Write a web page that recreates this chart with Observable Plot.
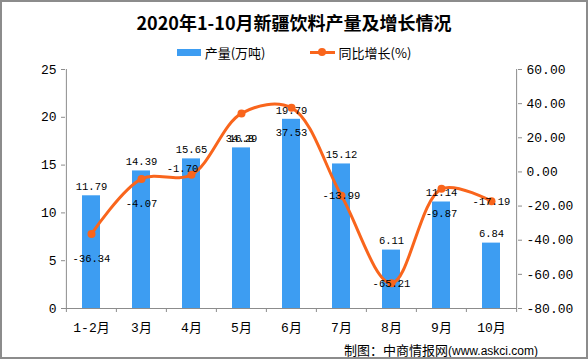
<!DOCTYPE html>
<html>
<head>
<meta charset="utf-8">
<script src="https://cdn.jsdelivr.net/npm/d3@7"></script>
<script src="https://cdn.jsdelivr.net/npm/@observablehq/plot@0.6"></script>
<style>
  html, body { margin: 0; padding: 0; background: #fff; }
  #wrap { position: relative; width: 588px; height: 359px; overflow: hidden; background: #fff; }
  #border { position: absolute; left: 0; top: 0; width: 588px; height: 359px; box-sizing: border-box; border: 2px solid #8c8c8c; pointer-events: none; }
  #title { padding-top: 3px; height: 38px; line-height: 38px; text-align: center; font-family: "Noto Sans CJK SC", sans-serif; font-weight: bold; font-size: 18px; color: #000; }
  #legend { height: 22px; display: flex; justify-content: center; align-items: center; font-family: "Noto Sans CJK SC", sans-serif; font-size: 13px; color: #000; }
  .item { display: flex; align-items: center; }
  .sw-bar { width: 24px; height: 7px; margin-right: 4px; }
  .sw-line { position: relative; width: 25px; height: 3px; margin-right: 4px; }
  .sw-line span { position: absolute; left: 8.5px; top: -2.5px; width: 8px; height: 8px; border-radius: 50%; }
  #caption { margin-top: 2px; height: 16px; line-height: 16px; text-align: right; padding-right: 50px; color: #000; white-space: nowrap; }
  #caption .cn { font-family: "Noto Sans CJK SC", sans-serif; font-size: 13px; }
  #caption .url { font-family: "Liberation Sans", sans-serif; font-size: 12px; }
  svg { display: block; }
</style>
</head>
<body>
<div id="wrap">
  <div id="title"></div>
  <div id="legend"></div>
  <div id="chart"></div>
  <div id="caption"><span class="cn">制图：中商情报网</span><span class="url">(www.askci.com)</span></div>
  <div id="border"></div>
</div>
<script>
const titleText = "2020年1-10月新疆饮料产量及增长情况";
const seriesNames = ["产量(万吨)", "同比增长(%)"];
const categories = ["1-2月", "3月", "4月", "5月", "6月", "7月", "8月", "9月", "10月"];
const output = [11.79, 14.39, 15.65, 16.8, 19.79, 15.12, 6.11, 11.14, 6.84];
const growth = [-36.34, -4.07, -1.70, 34.29, 37.53, -13.99, -65.21, -9.87, -17.19];
const leftTicks = [0, 5, 10, 15, 20, 25];
const rightTicks = [60, 40, 20, 0, -20, -40, -60, -80];

const blue = "#3D9DF2";
const orange = "#F9651C";
const axisGray = "#8c8c8c";
const numFont = "'Liberation Mono', 'Noto Sans CJK SC', monospace";

document.getElementById("title").textContent = titleText;
document.getElementById("legend").innerHTML =
  `<div class="item"><div class="sw-bar" style="background:${blue}"></div><span>${seriesNames[0]}</span></div>` +
  `<div class="item" style="margin-left:44px"><div class="sw-line" style="background:${orange}"><span style="background:${orange}"></span></div><span>${seriesNames[1]}</span></div>`;

const rMin = -80, rMax = 60, lMax = 25;
const toLeft = v => (v - rMin) / (rMax - rMin) * lMax;
const fromLeft = d => { const v = Math.round(d / lMax * (rMax - rMin) + rMin); return (v === 0 ? 0 : v).toFixed(2); };

const rows = categories.map((c, i) => ({ c, i, output: output[i], growth: growth[i], g: toLeft(growth[i]) }));

const W = 588, H = 277, mL = 65, mR = 71, mT = 6, mB = 32;
const step = (W - mL - mR) / categories.length;

const below = new Set([0, 1, 3, 4, 7]);
const on = new Set([5, 6, 8]);
const above = new Set([2]);

const textOpts = { fontFamily: numFont, fontSize: 10.5, fill: "#000" };

const chart = Plot.plot({
  width: W, height: H,
  marginLeft: mL, marginRight: mR, marginTop: mT, marginBottom: mB,
  style: { fontFamily: numFont, fontSize: "13px", color: "#000", background: "transparent", overflow: "visible" },
  x: { domain: categories, paddingInner: 0.64, paddingOuter: 0.32, label: null },
  y: { domain: [0, lMax], label: null },
  marks: [
    Plot.barY(rows, { x: "c", y: "output", fill: blue }),
    Plot.ruleY([0], { stroke: axisGray }),
    Plot.ruleX([categories[0]], { x: d => d, dx: -step / 2, y1: 0, y2: lMax, stroke: axisGray }),
    Plot.ruleX([categories[categories.length - 1]], { x: d => d, dx: step / 2, y1: 0, y2: lMax, stroke: axisGray }),
    Plot.axisX({ tickSize: 4, tickFormat: () => "", dx: -step / 2, stroke: axisGray, label: null }),
    Plot.axisX({ ticks: [categories[categories.length - 1]], tickSize: 4, tickFormat: () => "", dx: step / 2, stroke: axisGray, label: null }),
    Plot.axisX({ tickSize: 0, tickPadding: 14, fontSize: 13, fontFamily: numFont, fill: "#000", label: null }),
    Plot.axisY({ anchor: "left", ticks: leftTicks, tickSize: 4, tickPadding: 5, stroke: axisGray, fill: "#000", fontSize: 13, fontFamily: numFont, label: null }),
    Plot.axisY({ anchor: "right", ticks: rightTicks.map(toLeft), tickFormat: fromLeft, tickSize: 4, tickPadding: 5, stroke: axisGray, fill: "#000", fontSize: 13, fontFamily: numFont, label: null }),
    Plot.line(rows, { x: "c", y: "g", stroke: orange, strokeWidth: 3, curve: "catmull-rom" }),
    Plot.dot(rows, { x: "c", y: "g", r: 4, fill: orange, stroke: "none" }),
    Plot.text(rows, { x: "c", y: "output", text: d => String(d.output), dy: -9, ...textOpts }),
    Plot.text(rows.filter(d => below.has(d.i)), { x: "c", y: "g", text: d => d.growth.toFixed(2), dy: 25, ...textOpts }),
    Plot.text(rows.filter(d => on.has(d.i)), { x: "c", y: "g", text: d => d.growth.toFixed(2), dy: 0, ...textOpts }),
    Plot.text(rows.filter(d => above.has(d.i)), { x: "c", y: "g", text: d => d.growth.toFixed(2), dy: -6, dx: -9, ...textOpts })
  ]
});
document.getElementById("chart").appendChild(chart);
</script>
</body>
</html>
